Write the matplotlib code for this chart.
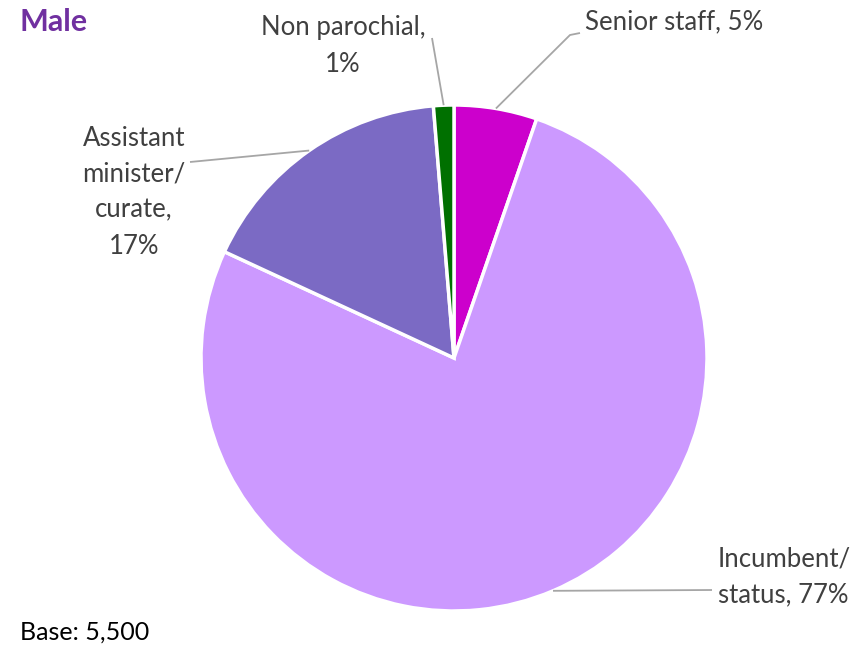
import numpy as np
import matplotlib
matplotlib.use("Agg")
import matplotlib.pyplot as plt

categories = ["Senior staff", "Incumbent/\nstatus", "Assistant\nminister/\ncurate", "Non parochial"]
values = [5.3, 76.6, 16.8, 1.3]
labels = ["Senior staff, 5%", "Incumbent/\nstatus, 77%", "Assistant\nminister/\ncurate,\n17%", "Non parochial,\n1%"]
colors = ["#CC00CC", "#CC99FF", "#7B6AC4", "#007000"]

plt.rcParams['font.family'] = ['Lato', 'DejaVu Sans']
W, H = 862, 647
fig = plt.figure(figsize=(W/100, H/100), dpi=100)
ax = fig.add_axes([0, 0, 1, 1])

cx, cy, r = 454, H - 358, 253
ax.pie(values, colors=colors, startangle=90, counterclock=False, center=(cx, cy), radius=r,
       wedgeprops=dict(edgecolor='white', linewidth=2.5), frame=True)
ax.set_xlim(0, W)
ax.set_ylim(0, H)
ax.set_aspect('equal')
ax.axis('off')

# leader lines & labels
cum = np.cumsum([0] + values[:-1])
mids = [(c + v / 2) / 100 * 360 for c, v in zip(cum, values)]
lc = "#A6A6A6"
txt = "#404040"
fs = 18.5
specs = [
    dict(elbow=[(570, 35), (580, 33)], text=(585, 22), ha='left'),
    dict(elbow=[(712, 590)], text=(718, 577), ha='left'),
    dict(elbow=[(190, 162)], text=(134, 192), ha='center'),
    dict(elbow=[(432, 38)], text=(343, 46), ha='center'),
]
for ang, lab, sp in zip(mids, labels, specs):
    a = np.deg2rad(ang)
    sx, sy = cx + r * np.sin(a), cy + r * np.cos(a)
    pts = [(sx, sy)] + [(x, H - y) for x, y in sp['elbow']]
    xs, ys = zip(*pts)
    ax.plot(xs, ys, color=lc, lw=1.3, solid_capstyle='butt')
    ax.text(sp['text'][0], H - sp['text'][1], lab, ha=sp['ha'], va='center',
            fontsize=fs, color=txt, linespacing=1.55)

ax.text(20, H - 22, "Male", fontsize=22, fontweight='bold', color="#7030A0", ha='left', va='center')
ax.text(20, H - 632, "Base: 5,500", fontsize=18, color="black", ha='left', va='center')

fig.savefig("out.png", dpi=100)
